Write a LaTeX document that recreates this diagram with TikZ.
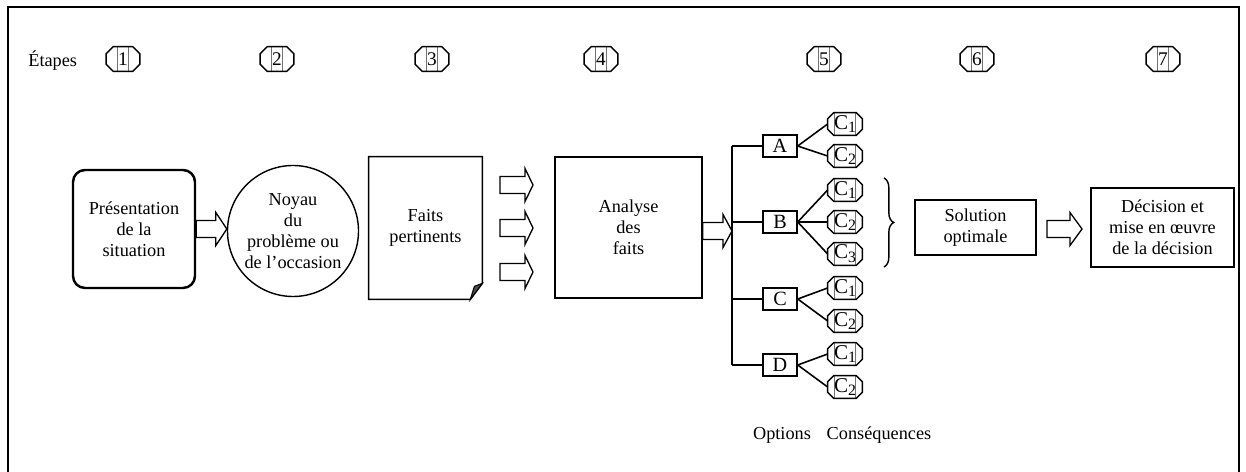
\documentclass[tikz,border=0pt]{standalone}
\usepackage{fontspec}
\setmainfont{Liberation Serif}
\usetikzlibrary{calc,decorations.pathreplacing}
\newcommand\pxu{0.02cm}
% hollow block arrow: tail, tip, head length
\newcommand\fatarrow[3]{%
  \draw[fat] ($(#1)+(0,-8.5)$) -- ($(#2)+(-#3,-8.5)$) -- ($(#2)+(-#3,-16.5)$) -- (#2)
    -- ($(#2)+(-#3,16.5)$) -- ($(#2)+(-#3,8.5)$) -- ($(#1)+(0,8.5)$) -- cycle;}
% octagonal outline around a named node: node, chamfer
\newcommand\octagon[2]{%
  \draw[octline] ($(#1.north west)+(#2,0)$) -- ($(#1.north east)+(-#2,0)$) -- ($(#1.north east)+(0,#2)$)
    -- ($(#1.south east)+(0,-#2)$) -- ($(#1.south east)+(-#2,0)$) -- ($(#1.south west)+(#2,0)$)
    -- ($(#1.south west)+(0,-#2)$) -- ($(#1.north west)+(0,#2)$) -- cycle;}
\newcommand\stepmark[3]{\node[stepbadge] (#1) at (#2) {#3}; \octagon{#1}{7}}
\newcommand\conmark[3]{\node[conbadge] (#1) at (#2) {C\raisebox{-0.4ex}{\fontsize{9}{9}\selectfont #3}}; \octagon{#1}{6}}
\begin{document}
\begin{tikzpicture}[x=0.02cm,y=-0.02cm,
  font=\fontsize{10.4}{12}\selectfont,
  box/.style={draw, line width=0.8pt, align=center, inner sep=0pt},
  fat/.style={draw, line width=0.75pt, fill=white, line join=miter},
  link/.style={line width=0.9pt},
  octline/.style={line width=0.8pt, line join=miter},
  stepbadge/.style={inner sep=0pt, minimum width=33*\pxu, minimum height=24*\pxu,
    font=\fontsize{11}{12}\selectfont,
    path picture={
      \draw[black!55, line width=0.4pt]
        ([xshift=-5.5*\pxu]path picture bounding box.north) -- ([xshift=-5.5*\pxu]path picture bounding box.south)
        ([xshift=5.5*\pxu]path picture bounding box.north) -- ([xshift=5.5*\pxu]path picture bounding box.south);}},
  conbadge/.style={inner sep=0pt, minimum width=34*\pxu, minimum height=22*\pxu,
    font=\fontsize{12}{12}\selectfont,
    path picture={
      \draw[black!55, line width=0.4pt]
        ([xshift=-10.5*\pxu]path picture bounding box.north) -- ([xshift=-10.5*\pxu]path picture bounding box.south)
        ([xshift=10*\pxu]path picture bounding box.north) -- ([xshift=10*\pxu]path picture bounding box.south);}},
  optbox/.style={box, minimum width=34*\pxu, minimum height=22*\pxu, font=\fontsize{11.5}{12}\selectfont}]
\useasboundingbox (0,0) rectangle (1246,472);

% outer frame
\draw[line width=1.2pt] (8,474) -- (8,7) -- (1239,7) -- (1239,474);

% step row
\node[anchor=west, inner sep=0pt] (etapes) at (28,61) {Étapes};
\stepmark{s1}{123,59}{1}
\stepmark{s2}{277,59}{2}
\stepmark{s3}{432,59}{3}
\stepmark{s4}{601,59}{4}
\stepmark{s5}{824,59}{5}
\stepmark{s6}{977,59}{6}
\stepmark{s7}{1163,59}{7}

% 1 - situation
\node[box, line width=1.4pt, rounded corners=12*\pxu, minimum width=122*\pxu, minimum height=118*\pxu]
  (pres) at (134,229) {Présentation\\de la\\situation};
% 2 - core of the problem
\node[circle, draw, line width=0.8pt, align=center, inner sep=0pt, minimum size=131*\pxu]
  (noyau) at (293,231) {Noyau\\du\\problème ou\\de l'occasion};
% 3 - relevant facts (document with folded corner)
\node[align=center, inner sep=0pt, minimum width=113*\pxu, minimum height=142*\pxu]
  (faits) at (425.5,228) {Faits\\pertinents};
\draw[line width=0.8pt, line join=miter] (faits.north west) -- (faits.north east)
  -- ($(faits.south east)+(0,-16)$) -- ($(faits.south east)+(-12,0)$) -- (faits.south west) -- cycle;
\filldraw[fill=black!70, line width=0.6pt, line join=miter] ($(faits.south east)+(-12,0)$)
  -- ($(faits.south east)+(-8,-13)$) -- ($(faits.south east)+(0,-16)$) -- cycle;
% 4 - analysis
\node[box, minimum width=147*\pxu, minimum height=141*\pxu] (analyse) at (628.5,227.5) {Analyse\\des\\faits};

% block arrows
\fatarrow{pres.east}{pres.east -| noyau.west}{11}
\coordinate (f1a) at (500,185); \coordinate (f1b) at (533,185);
\coordinate (f2a) at (500,228); \coordinate (f2b) at (533,228);
\coordinate (f3a) at (500,272); \coordinate (f3b) at (533,272);
\fatarrow{f1a}{f1b}{8}
\fatarrow{f2a}{f2b}{8}
\fatarrow{f3a}{f3b}{8}
\coordinate (trunk) at (732,231);
\fatarrow{analyse.east |- trunk}{trunk}{9}

% 5 - options and their consequences
\node[optbox] (A) at (780,146) {A};
\node[optbox] (B) at (780,222) {B};
\node[optbox] (C) at (780,299) {C};
\node[optbox] (D) at (780,365) {D};
\draw[link] (A.west -| trunk) -- (D.west -| trunk);
\foreach \o in {A,B,C,D} \draw[link] (\o.west -| trunk) -- (\o.west);

\conmark{a1}{845,124}{1}
\conmark{a2}{845,156}{2}
\conmark{b1}{845,190}{1}
\conmark{b2}{845,222}{2}
\conmark{b3}{845,254}{3}
\conmark{c1}{845,288}{1}
\conmark{c2}{845,321}{2}
\conmark{d1}{845,354}{1}
\conmark{d2}{845,387}{2}
\draw[link] (A.east) -- (a1.west) (A.east) -- (a2.west);
\draw[link] (B.east) -- (b1.west) (B.east) -- (b2.west) (B.east) -- (b3.west);
\draw[link] (C.east) -- (c1.west) (C.east) -- (c2.west);
\draw[link] (D.east) -- (d1.west) (D.east) -- (d2.west);

\coordinate (brtop) at (884,178);
\coordinate (brbot) at (884,267);
\draw[line width=0.8pt, decorate, decoration={brace, amplitude=5.5pt}] (brtop) -- (brbot);

\node[inner sep=0pt] (options) at (782,435) {Options};
\node[inner sep=0pt] (conseq) at (879,435) {Conséquences};

% 6 - optimal solution
\node[box, minimum width=121*\pxu, minimum height=55*\pxu] (sol) at (975.5,227.5) {Solution\\optimale};
\coordinate (s6a) at (1047,229); \coordinate (s6b) at (1082,229);
\fatarrow{s6a}{s6b}{12}
% 7 - decision
\node[box, minimum width=143*\pxu, minimum height=79*\pxu] (dec) at (1162.5,227.5)
  {Décision et\\mise en œuvre\\de la décision};
\end{tikzpicture}
\end{document}
